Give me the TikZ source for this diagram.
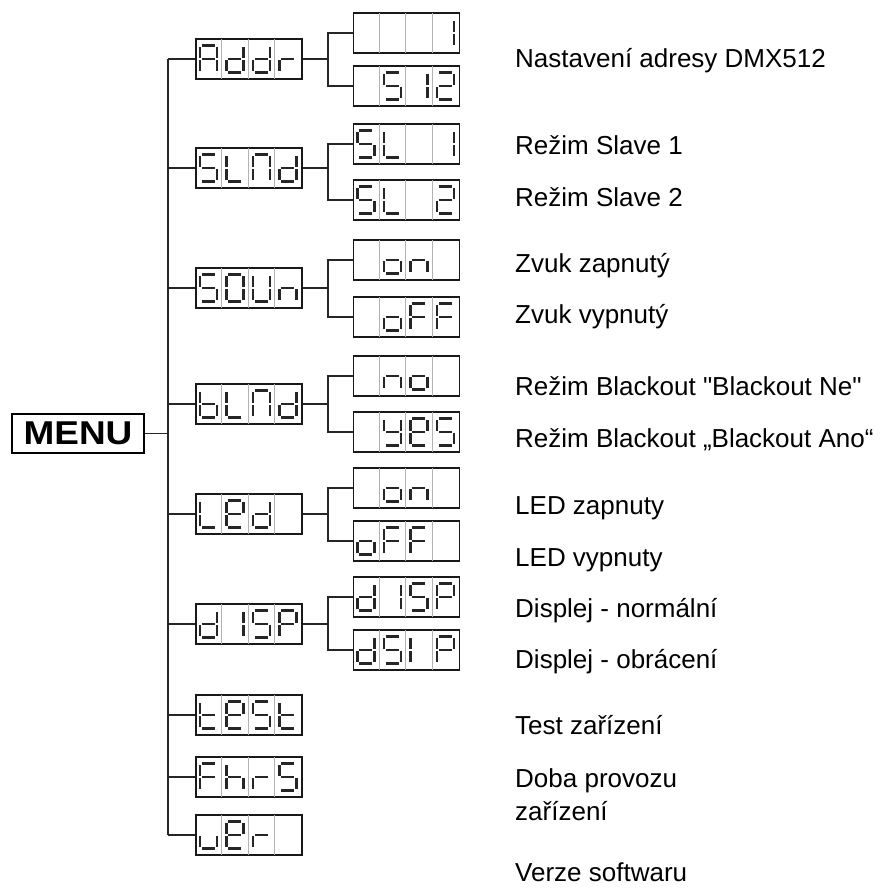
\documentclass[tikz,border=0pt]{standalone}
\usepackage{fontspec}
\usepackage{graphicx}
\setmainfont{Liberation Sans}[Ligatures=TeXOff]
\usetikzlibrary{calc}
\tikzset{mnlcd/.style={rectangle,draw=black!90,line width=1.8pt,inner sep=0pt,minimum width=106pt,minimum height=40pt},
         mndiv/.style={draw=black!30,line width=0.8pt},
         mnseg/.style={draw=black!85,line width=2.6pt},
         mnwire/.style={draw=black!85,line width=1.6pt},
         mnlab/.style={anchor=base west,inner sep=0pt,font=\fontsize{26}{33}\selectfont},
         mnbox/.style={rectangle,draw,line width=1.6pt,inner sep=0pt,minimum width=132pt,minimum height=39pt,
                       font=\fontsize{33}{33}\selectfont\bfseries},
         seg a/.style={insert path={(-6.5,13.5)--(6.5,13.5)}},
         seg b/.style={insert path={(8.5,12)--(8.5,1.2)}},
         seg c/.style={insert path={(8.5,-1.2)--(8.5,-12)}},
         seg d/.style={insert path={(-6.5,-13.5)--(6.5,-13.5)}},
         seg e/.style={insert path={(-8.5,-1.2)--(-8.5,-12)}},
         seg f/.style={insert path={(-8.5,12)--(-8.5,1.2)}},
         seg g/.style={insert path={(-6.5,0)--(6.5,0)}},
         glx/.style={},
         glA/.style={seg a,seg b,seg c,seg e,seg f,seg g},
         gld/.style={seg b,seg c,seg d,seg e,seg g},
         glr/.style={seg e,seg g},
         glS/.style={seg a,seg c,seg d,seg f,seg g},
         glL/.style={seg d,seg e,seg f},
         glN/.style={seg a,seg b,seg c,seg e,seg f},
         glO/.style={seg a,seg b,seg c,seg d,seg e,seg f},
         glU/.style={seg b,seg c,seg d,seg e,seg f},
         gln/.style={seg c,seg e,seg g},
         glb/.style={seg c,seg d,seg e,seg f,seg g},
         glE/.style={seg a,seg b,seg d,seg e,seg f,seg g},
         glt/.style={seg d,seg e,seg f,seg g},
         glF/.style={seg a,seg e,seg f,seg g},
         glh/.style={seg c,seg e,seg f,seg g},
         glv/.style={seg c,seg d,seg e},
         glP/.style={seg a,seg b,seg e,seg f,seg g},
         gl1/.style={seg b,seg c},
         glI/.style={seg e,seg f},
         gl2/.style={seg a,seg b,seg d,seg e,seg g},
         glo/.style={seg c,seg d,seg e,seg g},
         gly/.style={seg b,seg c,seg d,seg f,seg g}}

\begin{document}
\begin{tikzpicture}[x=1pt,y=1pt]
    \useasboundingbox (0,0) rectangle (884,-888);
    \node[mnbox] (menu) at (78,-433.5) {\scalebox{1.12}[1]{MENU}};
    \foreach \n/\x/\y in {addr/249/59,slnd/249/168,soun/249/288,blnd/249/404,led/249/514,disp/249/624,
                          test/249/715,fhrs/249/777,ver/249/835,
                          addra/406.5/33,addrb/406.5/86,sla/406.5/144,slb/406.5/200,sona/406.5/260,sonb/406.5/317,
                          bla/406.5/376,blb/406.5/432,leda/406.5/488,ledb/406.5/541,dispa/406.5/597,dispb/406.5/650}
      {\node[mnlcd] (\n) at (\x,-\y) {};}
    \foreach \n/\p/\q/\r/\s in {addr/A/d/d/r,slnd/S/L/N/d,soun/S/O/U/n,blnd/b/L/N/d,led/L/E/d/x,disp/d/1/S/P,
                                test/t/E/S/t,fhrs/F/h/r/S,ver/v/E/r/x,addra/x/x/x/1,addrb/x/S/1/2,sla/S/L/x/1,
                                slb/S/L/x/2,sona/x/o/n/x,sonb/x/o/F/F,bla/x/n/o/x,blb/x/y/E/S,leda/x/o/n/x,
                                ledb/o/F/F/x,dispa/d/1/S/P,dispb/d/S/I/P}
      {\foreach \k in {1,2,3} \draw[mndiv] ($(\n.south west)+(\k*26.5,1)$) -- ($(\n.north west)+(\k*26.5,-1)$);
       \foreach \g [count=\i] in {\p,\q,\r,\s} \draw[mnseg,shift={($(\n.west)+(\i*26.5-13.25,0)$)},gl\g];}
    \coordinate (trunk) at (168,0);
    \draw[mnwire] (menu.east) -- (menu.east -| trunk);
    \draw[mnwire] (trunk |- addr) -- (trunk |- ver);
    \foreach \n in {addr,slnd,soun,blnd,led,disp,test,fhrs,ver}
      {\draw[mnwire] (trunk |- \n) -- (\n.west);}
    \foreach \p/\a/\b in {addr/addra/addrb,slnd/sla/slb,soun/sona/sonb,blnd/bla/blb,led/leda/ledb,disp/dispa/dispb}
      {\draw[mnwire] (\p.east) -- ++(25,0); \draw[mnwire] (\a.west) -| ($(\p.east)+(25,0)$) |- (\b.west);}
    \foreach \n/\y/\t in {lbaddr/68/{Nastavení adresy DMX512},lbsla/154/{Režim Slave 1},lbslb/206/{Režim Slave 2},
                          lbsona/272/{Zvuk zapnutý},lbsonb/323/{Zvuk vypnutý},
                          lbbla/395/{Režim Blackout "Blackout Ne"},lbblb/447/{Režim Blackout „Blackout Ano“},
                          lbleda/514/{LED zapnuty},lbledb/566/{LED vypnuty},
                          lbdispa/617/{Displej - normální},lbdispb/668/{Displej - obrácení},
                          lbtest/734/{Test zařízení},lbfhrs/787/{Doba provozu},lbfhrsb/820/{zařízení},
                          lbver/881/{Verze softwaru}}
      {\node[mnlab] (\n) at (515,-\y) {\t};}
  \end{tikzpicture}
\end{document}
